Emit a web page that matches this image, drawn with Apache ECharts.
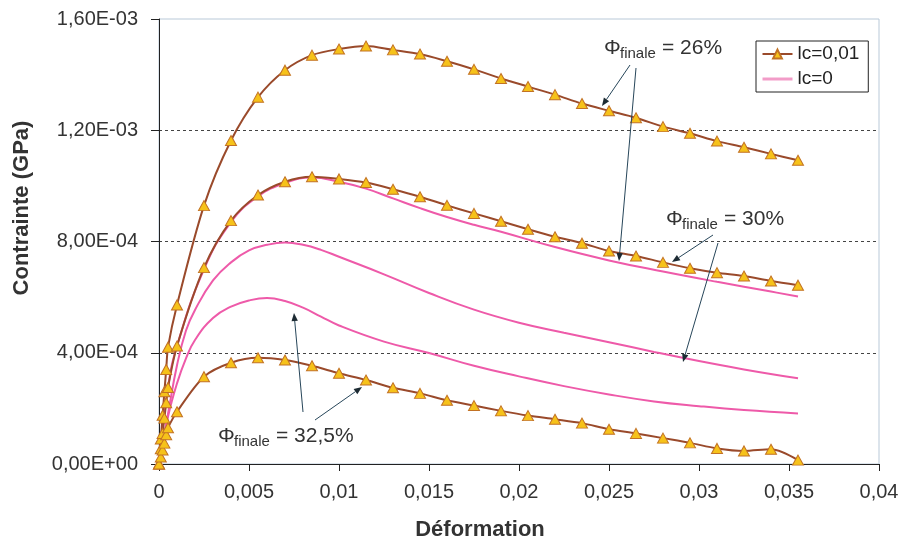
<!DOCTYPE html>
<html><head><meta charset="utf-8">
<script src="https://cdn.jsdelivr.net/npm/echarts@6/dist/echarts.min.js"></script>
<style>html,body{margin:0;padding:0;background:#fff}#c{width:904px;height:547px}</style>
</head><body><div id="c"></div><script>
// ---- data (strain, stress in GPa) ----
const xTickLabels = ['0','0,005','0,01','0,015','0,02','0,025','0,03','0,035','0,04'];
const yTickLabels = ['0,00E+00','4,00E-04','8,00E-04','1,20E-03','1,60E-03'];
const legendNames = ['lc=0,01','lc=0'];

const strainMarked = [0,0.0001,0.0002,0.0003,0.0004,0.0005,0.001,0.0025,0.004,0.0055,0.007,0.0085,0.01,0.0115,0.013,0.0145,0.016,0.0175,0.019,0.0205,0.022,0.0235,0.025,0.0265,0.028,0.0295,0.031,0.0325,0.034,0.0355];
const stressLc001_phi26 = [0,0.90e-4,1.75e-4,2.60e-4,3.40e-4,4.20e-4,5.72e-4,9.29e-4,11.63e-4,13.19e-4,14.16e-4,14.70e-4,14.92e-4,15.03e-4,14.89e-4,14.74e-4,14.48e-4,14.19e-4,13.86e-4,13.57e-4,13.28e-4,12.96e-4,12.70e-4,12.45e-4,12.13e-4,11.89e-4,11.61e-4,11.39e-4,11.15e-4,10.92e-4];
const stressLc001_phi30 = [0,0.55e-4,1.10e-4,1.65e-4,2.20e-4,2.75e-4,4.24e-4,7.06e-4,8.75e-4,9.67e-4,10.15e-4,10.33e-4,10.25e-4,10.12e-4,9.88e-4,9.61e-4,9.30e-4,9.01e-4,8.73e-4,8.44e-4,8.17e-4,7.94e-4,7.66e-4,7.48e-4,7.25e-4,7.04e-4,6.88e-4,6.76e-4,6.58e-4,6.43e-4];
const stressLc001_phi325 = [0,0.25e-4,0.50e-4,0.75e-4,1.05e-4,1.30e-4,1.88e-4,3.14e-4,3.64e-4,3.82e-4,3.74e-4,3.53e-4,3.26e-4,3.02e-4,2.74e-4,2.54e-4,2.29e-4,2.10e-4,1.91e-4,1.74e-4,1.61e-4,1.47e-4,1.25e-4,1.10e-4,0.93e-4,0.76e-4,0.56e-4,0.47e-4,0.53e-4,0.14e-4];

const strainLc0_phi26 = [0,0.0005,0.001,0.0025,0.004,0.0055,0.007,0.0085,0.01,0.0115,0.013,0.0145,0.016,0.0175,0.019,0.022,0.025,0.028,0.031,0.034,0.0355];
const stressLc0_phi26 = [0,2.75e-4,4.24e-4,7.00e-4,8.70e-4,9.62e-4,10.10e-4,10.30e-4,10.15e-4,9.90e-4,9.55e-4,9.20e-4,8.88e-4,8.60e-4,8.35e-4,7.80e-4,7.32e-4,6.92e-4,6.55e-4,6.20e-4,6.02e-4];
const strainLc0 = [0,0.0005,0.001,0.0015,0.002,0.003,0.004,0.005,0.006,0.007,0.008,0.009,0.01,0.0125,0.015,0.0175,0.02,0.0225,0.025,0.0275,0.03,0.0325,0.0355];
const stressLc0_phi30 = [0,1.80e-4,3.55e-4,4.80e-4,5.54e-4,6.60e-4,7.25e-4,7.68e-4,7.88e-4,7.96e-4,7.88e-4,7.70e-4,7.45e-4,6.82e-4,6.15e-4,5.55e-4,5.08e-4,4.72e-4,4.38e-4,4.03e-4,3.70e-4,3.40e-4,3.08e-4];
const stressLc0_phi325 = [0,1.70e-4,2.90e-4,3.80e-4,4.46e-4,5.25e-4,5.66e-4,5.88e-4,5.97e-4,5.86e-4,5.62e-4,5.30e-4,4.98e-4,4.40e-4,3.99e-4,3.53e-4,3.15e-4,2.80e-4,2.50e-4,2.25e-4,2.08e-4,1.94e-4,1.82e-4];

// ---- chart ----
const FONT = '"Liberation Sans", Arial, sans-serif';
const zip = (xs, ys) => xs.map((x, i) => [x, ys[i]]);

function markedSeries(ys) {
  return {
    type: 'line', name: legendNames[0], data: zip(strainMarked, ys),
    smooth: 0.3, symbol: 'triangle', symbolSize: [11, 10], showSymbol: true, showAllSymbol: true,
    lineStyle: { color: '#9a4a2b', width: 2 },
    itemStyle: { color: '#f6c21a', borderColor: '#c27224', borderWidth: 1 },
    z: 4, animation: false
  };
}
function pinkSeries(xs, ys) {
  return {
    type: 'line', name: legendNames[1], data: zip(xs, ys),
    smooth: 0.45, symbol: 'none', showSymbol: false,
    lineStyle: { color: '#ee5aa9', width: 2 }, itemStyle: { color: '#ee5aa9' },
    z: 3, animation: false
  };
}

const ARROW = '#27465a';
function arrow(x1, y1, x2, y2) {
  const dx = x2 - x1, dy = y2 - y1, L = Math.hypot(dx, dy);
  const ux = dx / L, uy = dy / L, len = 8, hw = 3.2;
  const bx = x2 - ux * len, by = y2 - uy * len;
  return [
    { type: 'line', shape: { x1, y1, x2: bx, y2: by }, style: { stroke: ARROW, lineWidth: 1 }, z: 10 },
    { type: 'polygon', shape: { points: [[x2, y2], [bx - uy * hw, by + ux * hw], [bx + uy * hw, by - ux * hw]] }, style: { fill: '#1d2b33' }, z: 10 }
  ];
}
function txt(text, x, y, size, opts) {
  return Object.assign({ type: 'text', x, y, z: 10,
    style: { text, font: size + 'px ' + FONT, fill: '#333', textAlign: 'left', textVerticalAlign: 'middle', align: 'left', verticalAlign: 'middle' } }, opts || {});
}
function phiLabel(x, y, value) {
  return [
    txt('Φ', x, y, 21),
    txt('finale', x + 16, y + 6, 15),
    txt('= ' + value, x + 58, y, 21)
  ];
}

const chart = echarts.init(document.getElementById('c'), null, { renderer: 'canvas' });
chart.setOption({
  backgroundColor: '#fff',
  animation: false,
  grid: { left: 159, top: 19, right: 25, bottom: 83, show: true, borderColor: '#b9c9d8', borderWidth: 1, backgroundColor: 'transparent' },
  xAxis: {
    type: 'value', min: 0, max: 0.04, interval: 0.005,
    axisLine: { show: true, lineStyle: { color: '#222', width: 1 } },
    axisTick: { show: true, inside: false, length: 7, lineStyle: { color: '#222' } },
    splitLine: { show: false },
    axisLabel: { margin: 18, color: '#333', fontSize: 20, fontFamily: FONT,
      formatter: v => xTickLabels[Math.round(v / 0.005)] }
  },
  yAxis: {
    type: 'value', min: 0, max: 0.0016, interval: 0.0004,
    axisLine: { show: true, lineStyle: { color: '#222', width: 1 } },
    axisTick: { show: true, inside: false, length: 8, lineStyle: { color: '#222' } },
    splitLine: { show: true, showMinLine: false, showMaxLine: false, lineStyle: { color: '#444', type: [3, 3], width: 1 } },
    axisLabel: { margin: 21, color: '#333', fontSize: 20, fontFamily: FONT,
      formatter: v => yTickLabels[Math.round(v / 0.0004)] }
  },
  legend: {
    orient: 'vertical', left: 756, top: 41,
    data: [
      { name: legendNames[0] },
      { name: legendNames[1], itemStyle: { opacity: 0 }, lineStyle: { color: '#f29cc8', width: 3 } }
    ],
    borderColor: '#222', borderWidth: 1, padding: [3, 9, 3, 5], itemGap: 5,
    itemWidth: 30, itemHeight: 11,
    textStyle: { fontSize: 19, fontFamily: FONT, color: '#222', lineHeight: 20 },
    backgroundColor: '#fff'
  },
  series: [
    markedSeries(stressLc001_phi26),
    markedSeries(stressLc001_phi30),
    markedSeries(stressLc001_phi325),
    pinkSeries(strainLc0_phi26, stressLc0_phi26),
    pinkSeries(strainLc0, stressLc0_phi30),
    pinkSeries(strainLc0, stressLc0_phi325)
  ],
  graphic: [
    txt('Contrainte (GPa)', 22, 208, 22, { rotation: Math.PI / 2,
      style: { text: 'Contrainte (GPa)', font: 'bold 22px ' + FONT, fill: '#333', textAlign: 'center', textVerticalAlign: 'middle', align: 'center', verticalAlign: 'middle' } }),
    txt('Déformation', 480, 530, 22, {
      style: { text: 'Déformation', font: 'bold 22px ' + FONT, fill: '#333', textAlign: 'center', textVerticalAlign: 'middle', align: 'center', verticalAlign: 'middle' } }),
    ...phiLabel(604, 48, '26%'),
    ...phiLabel(666, 219, '30%'),
    ...phiLabel(218, 436, '32,5%'),
    ...arrow(630, 65, 602, 106),
    ...arrow(636, 68, 619, 261),
    ...arrow(713, 235, 672, 262),
    ...arrow(718, 243, 683, 362),
    ...arrow(303, 412, 294, 313),
    ...arrow(315, 420, 362, 387)
  ]
});
</script></body></html>
